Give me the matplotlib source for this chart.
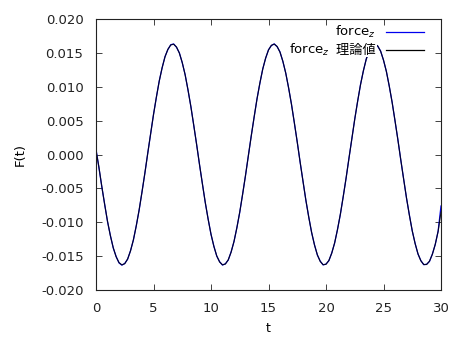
import matplotlib
matplotlib.use("Agg")
import matplotlib.pyplot as plt
from matplotlib.lines import Line2D

t = [i * 0.25 for i in range(121)]

force_theory = [
    0.00060, -0.00181, -0.00466, -0.00736, -0.00983, -0.01199, -0.01376, -0.01510,
    -0.01595, -0.01629, -0.01612, -0.01542, -0.01424, -0.01260, -0.01056, -0.00818,
    -0.00555, -0.00273, 0.00017, 0.00307, 0.00587, 0.00848, 0.01083, 0.01282,
    0.01441, 0.01553, 0.01616, 0.01628, 0.01587, 0.01496, 0.01358, 0.01176,
    0.00955, 0.00705, 0.00433, 0.00146, -0.00145, -0.00432, -0.00705, -0.00955,
    -0.01175, -0.01357, -0.01496, -0.01587, -0.01628, -0.01617, -0.01554, -0.01441,
    -0.01282, -0.01083, -0.00849, -0.00588, -0.00308, -0.00018, 0.00272, 0.00554,
    0.00818, 0.01055, 0.01260, 0.01424, 0.01542, 0.01612, 0.01629, 0.01595,
    0.01510, 0.01377, 0.01199, 0.00984, 0.00737, 0.00467, 0.00181, -0.00110,
    -0.00397, -0.00673, -0.00926, -0.01149, -0.01337, -0.01481, -0.01579, -0.01626,
    -0.01621, -0.01564, -0.01457, -0.01304, -0.01109, -0.00879, -0.00621, -0.00343,
    -0.00054, 0.00237, 0.00520, 0.00787, 0.01028, 0.01237, 0.01406, 0.01530,
    0.01606, 0.01630, 0.01602, 0.01523, 0.01395, 0.01224, 0.01012, 0.00769,
    0.00501, 0.00217, -0.00074, -0.00363, -0.00640, -0.00896, -0.01125, -0.01316,
    -0.01466, -0.01570, -0.01623, -0.01624, -0.01574, -0.01473, -0.01325, -0.01135,
    -0.00850,
]

force_z = [
    0.00080, -0.00190, -0.00470, -0.00730, -0.00990, -0.01195, -0.01380, -0.01505,
    -0.01600, -0.01633, -0.01608, -0.01546, -0.01420, -0.01264, -0.01052, -0.00822,
    -0.00551, -0.00277, 0.00021, 0.00303, 0.00591, 0.00844, 0.01087, 0.01278,
    0.01445, 0.01549, 0.01620, 0.01632, 0.01583, 0.01500, 0.01354, 0.01180,
    0.00951, 0.00709, 0.00429, 0.00150, -0.00149, -0.00428, -0.00709, -0.00951,
    -0.01179, -0.01353, -0.01500, -0.01583, -0.01632, -0.01613, -0.01558, -0.01437,
    -0.01286, -0.01079, -0.00853, -0.00584, -0.00312, -0.00014, 0.00276, 0.00550,
    0.00822, 0.01051, 0.01264, 0.01420, 0.01546, 0.01608, 0.01633, 0.01591,
    0.01514, 0.01373, 0.01203, 0.00980, 0.00741, 0.00463, 0.00185, -0.00114,
    -0.00393, -0.00677, -0.00922, -0.01153, -0.01333, -0.01485, -0.01575, -0.01630,
    -0.01617, -0.01568, -0.01453, -0.01308, -0.01105, -0.00883, -0.00617, -0.00347,
    -0.00050, 0.00233, 0.00524, 0.00783, 0.01032, 0.01233, 0.01410, 0.01526,
    0.01610, 0.01634, 0.01598, 0.01527, 0.01391, 0.01228, 0.01008, 0.00773,
    0.00497, 0.00221, -0.00078, -0.00359, -0.00644, -0.00892, -0.01129, -0.01312,
    -0.01470, -0.01566, -0.01627, -0.01620, -0.01578, -0.01469, -0.01329, -0.01131,
    -0.00760,
]

x_ticks = [0, 5, 10, 15, 20, 25, 30]
y_ticks = [-0.020, -0.015, -0.010, -0.005, 0.000, 0.005, 0.010, 0.015, 0.020]

plt.rcParams['font.family'] = ['DejaVu Sans', 'Noto Sans CJK JP']

fig = plt.figure(figsize=(4.5, 3.37), dpi=100)
ax = fig.add_axes([96/450, 1-290/337, (441-96)/450, (290-19)/337])

ax.plot(t, force_z, color='#0000ee', lw=0.9)
ax.plot(t, force_theory, color='black', lw=0.8, alpha=0.85)

ax.set_xlim(0, 30)
ax.set_ylim(-0.020, 0.020)
ax.set_xticks(x_ticks)
ax.set_xticklabels([str(v) for v in x_ticks])
ax.set_yticks(y_ticks)
ax.set_yticklabels([f"{v:.3f}" for v in y_ticks])
ax.tick_params(axis='both', direction='in', length=4, width=0.6, top=True, right=True,
               labelsize=9.5, colors='#222222')
ax.tick_params(axis='y', pad=9)
ax.tick_params(axis='x', pad=9)
for s in ax.spines.values():
    s.set_linewidth(0.8)
    s.set_color('#222222')

ax.set_xlabel('t', fontsize=9, labelpad=5)
ax.set_ylabel('F(t)', fontsize=9.5, labelpad=10)

# gnuplot-style key: right-aligned text, sample line on the right
x_text = (376-96)/345
y1 = 1 - (32-19)/271
y2 = 1 - (50-19)/271
bb = dict(facecolor='white', edgecolor='none', pad=0.6)

ax.text(x_text, y1, r'force$_z$', transform=ax.transAxes, ha='right', va='center',
        fontsize=9.5, bbox=bb, zorder=5)
cjk = ax.text(x_text, y2, '  理論値', transform=ax.transAxes, ha='right', va='center',
              fontsize=9.5, family=['Noto Sans CJK JP', 'DejaVu Sans'], bbox=bb, zorder=5)
renderer = fig.canvas.get_renderer()
ext = cjk.get_window_extent(renderer)
x_left = ax.transAxes.inverted().transform((ext.x0, ext.y0))[0]
ax.text(x_left, y2, r'force$_z$', transform=ax.transAxes, ha='right', va='center',
        fontsize=9.5, bbox=bb, zorder=5)

for col, yy in [('#0000ee', y1), ('black', y2)]:
    ax.add_line(Line2D([(386-96)/345, (424-96)/345], [yy, yy], transform=ax.transAxes,
                       color=col, lw=0.9, zorder=5))

fig.savefig('out.png', dpi=100)
